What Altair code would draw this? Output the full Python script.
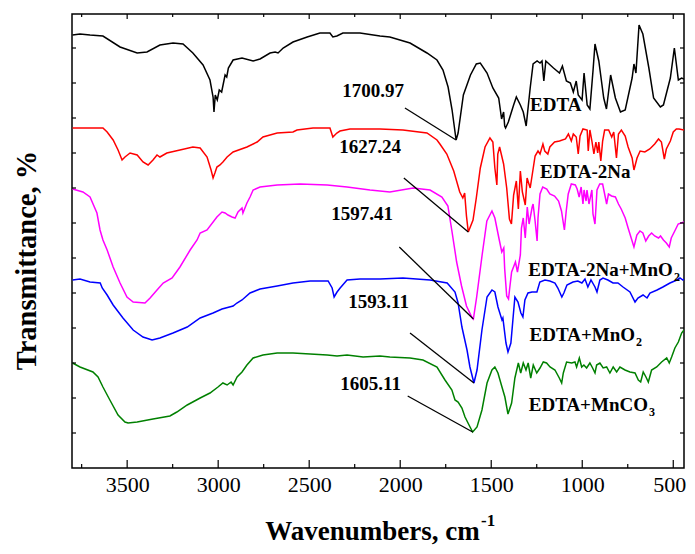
import altair as alt
import pandas as pd

# ---------------- data (wavenumber cm-1, transmittance a.u.) ----------------
edta = [(3800, 433), (3759, 434), (3704, 433), (3633, 432), (3539, 421), (3445, 415), (3391, 416),
        (3320, 423), (3248, 425), (3193, 424), (3139, 415), (3083, 403), (3045, 388), (3028, 371),
        (3023, 356), (3016, 373), (3005, 368), (2994, 378), (2981, 376), (2962, 393), (2953, 391),
        (2944, 400), (2918, 408), (2869, 410), (2808, 407), (2770, 409), (2715, 415), (2687, 416),
        (2671, 415), (2643, 420), (2589, 426), (2511, 431), (2441, 435), (2386, 435), (2370, 431),
        (2348, 432), (2315, 435), (2221, 435), (2111, 432), (2057, 431), (1946, 425), (1853, 415),
        (1798, 408), (1765, 398), (1737, 381), (1715, 358), (1693, 328), (1682, 335), (1653, 373),
        (1614, 393), (1582, 404), (1560, 405), (1523, 395), (1491, 380), (1459, 370), (1443, 349),
        (1432, 356), (1426, 342), (1421, 340), (1406, 346), (1377, 363), (1362, 371), (1340, 363),
        (1324, 356), (1308, 342), (1286, 380), (1270, 404), (1248, 407), (1232, 405), (1221, 407),
        (1211, 387), (1200, 407), (1158, 400), (1125, 395), (1109, 402), (1087, 387), (1065, 385),
        (1049, 376), (1033, 387), (1022, 373), (1001, 368), (990, 395), (973, 363), (958, 359),
        (941, 397), (930, 424), (909, 407), (882, 370), (867, 359), (844, 393), (818, 370),
        (790, 356), (764, 358), (726, 390), (716, 404), (705, 395), (688, 443), (667, 434),
        (634, 400), (608, 370), (571, 361), (554, 363), (516, 390), (494, 420), (472, 388),
        (454, 390), (441, 389)]

edta_2na = [(3800, 340), (3704, 340), (3633, 340), (3610, 336), (3577, 328), (3550, 318), (3528, 308),
            (3512, 311), (3484, 315), (3445, 313), (3413, 306), (3385, 303), (3358, 308), (3336, 313),
            (3320, 311), (3282, 315), (3210, 318), (3139, 321), (3099, 320), (3061, 311), (3039, 298),
            (3028, 290), (3018, 295), (3007, 301), (2990, 303), (2974, 306), (2951, 311), (2918, 316),
            (2842, 321), (2786, 326), (2754, 331), (2676, 335), (2589, 336), (2567, 338), (2479, 340),
            (2386, 340), (2370, 331), (2348, 335), (2331, 337), (2276, 339), (2111, 339), (1985, 338),
            (1853, 335), (1798, 328), (1782, 324), (1744, 314), (1706, 297), (1673, 276), (1656, 270),
            (1646, 275), (1636, 252), (1626, 236), (1600, 248), (1582, 270), (1560, 300), (1534, 321),
            (1507, 330), (1491, 326), (1480, 300), (1469, 283), (1464, 314), (1454, 321), (1432, 304),
            (1415, 280), (1400, 249), (1389, 244), (1377, 273), (1362, 287), (1351, 259), (1340, 297),
            (1329, 276), (1313, 263), (1303, 290), (1286, 280), (1275, 293), (1259, 312), (1243, 317),
            (1232, 314), (1216, 324), (1206, 317), (1189, 314), (1178, 321), (1152, 326), (1125, 327),
            (1092, 329), (1076, 334), (1060, 327), (1049, 334), (1033, 331), (1022, 314), (1012, 332),
            (996, 339), (973, 338), (967, 317), (958, 338), (947, 327), (936, 314), (925, 326),
            (915, 315), (909, 326), (898, 307), (888, 327), (877, 338), (855, 338), (838, 331),
            (827, 336), (812, 310), (801, 334), (785, 338), (764, 332), (748, 321), (726, 310),
            (716, 298), (699, 310), (682, 317), (656, 316), (629, 319), (602, 324), (581, 329),
            (565, 326), (549, 309), (538, 319), (516, 327), (500, 336), (483, 339), (468, 339),
            (441, 338)]

edta_2na_mno2 = [(3800, 279), (3743, 276), (3704, 271), (3666, 255), (3649, 238), (3633, 228), (3610, 218),
                 (3577, 201), (3539, 185), (3501, 171), (3467, 166), (3402, 165), (3374, 170), (3336, 178),
                 (3302, 185), (3253, 190), (3210, 201), (3154, 218), (3116, 228), (3099, 235), (3061, 238),
                 (3007, 251), (2979, 256), (2962, 255), (2946, 253), (2924, 251), (2907, 250), (2891, 256),
                 (2869, 260), (2864, 255), (2842, 265), (2825, 271), (2808, 278), (2770, 281), (2676, 283),
                 (2550, 284), (2401, 283), (2292, 281), (2166, 278), (2057, 276), (1929, 280), (1836, 278),
                 (1771, 271), (1738, 262), (1716, 237), (1690, 206), (1663, 182), (1636, 162), (1607, 151),
                 (1598, 149), (1580, 171), (1550, 213), (1524, 247), (1496, 257), (1480, 250), (1458, 230),
                 (1442, 216), (1431, 220), (1426, 199), (1415, 172), (1405, 169), (1399, 179), (1388, 196),
                 (1367, 206), (1356, 196), (1340, 213), (1334, 240), (1324, 250), (1313, 230), (1302, 261),
                 (1292, 244), (1275, 261), (1270, 264), (1259, 247), (1248, 227), (1243, 250), (1232, 274),
                 (1217, 281), (1195, 279), (1178, 274), (1152, 272), (1130, 267), (1114, 257), (1098, 238),
                 (1088, 257), (1077, 274), (1060, 284), (1038, 283), (1028, 279), (1017, 271), (1006, 281),
                 (996, 264), (990, 278), (979, 267), (974, 278), (963, 264), (947, 278), (941, 254),
                 (930, 244), (919, 278), (904, 284), (888, 284), (877, 274), (866, 264), (856, 274),
                 (839, 272), (818, 271), (801, 264), (786, 259), (764, 250), (748, 240), (726, 227),
                 (716, 221), (700, 233), (683, 237), (667, 235), (651, 227), (635, 232), (619, 235),
                 (602, 232), (581, 230), (570, 232), (554, 228), (538, 225), (522, 221), (511, 230),
                 (489, 238), (473, 244), (441, 246)]

edta_mno2 = [(3800, 188), (3759, 189), (3704, 186), (3648, 185), (3637, 180), (3610, 173), (3577, 163),
             (3523, 150), (3467, 138), (3413, 131), (3363, 128), (3320, 130), (3248, 135), (3170, 141),
             (3099, 150), (3028, 155), (2979, 159), (2918, 162), (2897, 165), (2869, 168), (2825, 175),
             (2770, 179), (2676, 182), (2589, 185), (2495, 187), (2396, 187), (2374, 180), (2363, 171),
             (2347, 176), (2330, 180), (2292, 188), (2221, 189), (2111, 189), (1985, 190), (1836, 188),
             (1742, 185), (1699, 176), (1682, 165), (1661, 141), (1633, 118), (1617, 101), (1595, 85),
             (1578, 98), (1551, 138), (1523, 171), (1496, 178), (1480, 176), (1463, 161), (1441, 148),
             (1436, 150), (1419, 125), (1408, 116), (1392, 125), (1381, 148), (1370, 171), (1353, 166),
             (1337, 155), (1326, 151), (1315, 168), (1298, 175), (1276, 176), (1249, 176), (1233, 186),
             (1205, 188), (1178, 187), (1150, 185), (1134, 180), (1112, 171), (1101, 175), (1084, 183),
             (1051, 186), (1024, 187), (1002, 185), (985, 189), (969, 181), (952, 188), (930, 181),
             (919, 176), (903, 188), (886, 190), (859, 188), (831, 185), (804, 185), (776, 181),
             (738, 176), (710, 166), (694, 170), (666, 173), (644, 170), (628, 175), (589, 178),
             (557, 181), (518, 185), (480, 188), (463, 190), (447, 188), (441, 189)]

edta_mnco3 = [(3800, 105), (3759, 101), (3688, 96), (3660, 91), (3633, 81), (3595, 68), (3550, 53),
              (3512, 46), (3495, 45), (3445, 46), (3358, 49), (3265, 52), (3227, 56), (3170, 63),
              (3099, 70), (3045, 75), (3001, 81), (2974, 85), (2951, 83), (2929, 86), (2918, 83),
              (2896, 91), (2869, 96), (2842, 103), (2808, 110), (2754, 113), (2676, 115), (2589, 115),
              (2495, 114), (2401, 113), (2347, 112), (2292, 113), (2204, 111), (2111, 112), (2057, 111),
              (1946, 110), (1875, 108), (1798, 101), (1754, 88), (1716, 78), (1699, 68), (1682, 66),
              (1661, 60), (1644, 51), (1622, 43), (1602, 36), (1578, 41), (1551, 58), (1523, 85),
              (1496, 98), (1480, 101), (1463, 95), (1441, 81), (1425, 71), (1408, 54), (1388, 65),
              (1370, 90), (1351, 105), (1338, 95), (1324, 105), (1309, 98), (1297, 105), (1283, 90),
              (1269, 103), (1250, 95), (1232, 100), (1214, 106), (1196, 105), (1177, 101), (1150, 98),
              (1126, 90), (1113, 85), (1104, 95), (1086, 106), (1058, 105), (1040, 106), (1031, 101),
              (1016, 110), (1003, 101), (991, 103), (976, 100), (958, 105), (943, 100), (930, 95),
              (921, 103), (903, 105), (885, 100), (866, 101), (848, 95), (830, 101), (811, 96),
              (793, 101), (765, 98), (738, 96), (710, 95), (692, 88), (679, 86), (665, 96), (650, 91),
              (637, 86), (619, 98), (591, 101), (564, 106), (536, 110), (522, 105), (509, 111),
              (491, 120), (472, 126), (454, 135), (441, 138)]

series_names = ["EDTA", "EDTA-2Na", "EDTA-2Na+MnO2", "EDTA+MnO2", "EDTA+MnCO3"]
series_colors = ["#000000", "#ff0000", "#ff00ff", "#0000ff", "#008000"]
series_data = [edta, edta_2na, edta_2na_mno2, edta_mno2, edta_mnco3]

# peak annotations: label, label anchor (wn, T), line start (wn, T), line end (peak)
peak_labels = ["1700.97", "1627.24", "1597.41", "1593.11", "1605.11"]
peak_label_wn = [1979, 1996, 2040, 1952, 1996]
peak_label_t = [371, 315, 248, 160, 78]
line_start_wn = [1974, 1980, 2005, 1946, 1959]
line_start_t = [360, 290, 221, 135, 72]
line_end_wn = [1693, 1626, 1598, 1595, 1602]
line_end_t = [328, 236, 149, 85, 36]

# curve name labels (anchor, baseline) and subscripts
name_texts = ["EDTA", "EDTA-2Na", "EDTA-2Na+MnO", "EDTA+MnO", "EDTA+MnCO"]
name_align = ["left", "left", "right", "right", "right"]
name_wn = [1287, 1232, 502, 710, 639]
name_t = [357, 290, 192, 127, 57]
sub_texts = ["2", "2", "3"]
sub_wn = [502, 710, 639]
sub_t = [187, 122, 52]

x_major = [3500, 3000, 2500, 2000, 1500, 1000, 500]
x_minor = [3750, 3250, 2750, 2250, 1750, 1250, 750]
y_ticks = [35, 70, 105, 140, 175, 210, 245, 280, 315, 350, 385, 420]

# ---------------- build ----------------
rows = []
for name, pts in zip(series_names, series_data):
    for wn, t in pts:
        rows.append({"series": name, "wn": wn, "T": t})
df = pd.DataFrame(rows)

FONT = "Liberation Serif"
W, H = 612, 454
xscale = alt.Scale(domain=[441, 3803], reverse=True, nice=False, zero=False)
yscale = alt.Scale(domain=[0, 454], nice=False, zero=False)

lines = alt.Chart(df).mark_line(strokeWidth=1.5, clip=True).encode(
    x=alt.X("wn:Q", scale=xscale,
            axis=alt.Axis(values=x_major, format="d", ticks=False, domain=False, grid=False,
                          labelFont=FONT, labelFontSize=22, labelColor="black",
                          labelPadding=6, labelFlush=False,
                          labelOffset={"condition": {"test": "datum.value == 500", "value": -4}, "value": 0},
                          title="Wavenumbers, cm", titleFont=FONT, titleFontSize=27,
                          titleFontWeight="bold", titleColor="black",
                          titleX=300, titleY=71, titleBaseline="alphabetic", titleAlign="center")),
    y=alt.Y("T:Q", scale=yscale,
            axis=alt.Axis(labels=False, ticks=False, domain=False, grid=False,
                          title="Transmittance, %", titleFont=FONT, titleFontSize=28.5,
                          titleFontWeight="bold", titleColor="black",
                          titleX=-46, titleY=246, titleAngle=270,
                          titleBaseline="middle", titleAlign="center")),
    color=alt.Color("series:N", scale=alt.Scale(domain=series_names, range=series_colors), legend=None),
    order=alt.Order("wn:Q", sort="descending"),
)

ann = pd.DataFrame({"label": peak_labels, "lwn": peak_label_wn, "lt": peak_label_t,
                    "swn": line_start_wn, "st": line_start_t, "ewn": line_end_wn, "et": line_end_t})
ann_lines = alt.Chart(ann).mark_rule(color="black", strokeWidth=1.3).encode(
    x=alt.X("swn:Q", scale=xscale), x2="ewn:Q",
    y=alt.Y("st:Q", scale=yscale), y2="et:Q")
ann_text = alt.Chart(ann).mark_text(font=FONT, fontSize=19, fontWeight="bold", color="black",
                                    align="right", baseline="alphabetic").encode(
    x=alt.X("lwn:Q", scale=xscale), y=alt.Y("lt:Q", scale=yscale), text="label:N")

names = pd.DataFrame({"txt": name_texts, "al": name_align, "wn": name_wn, "t": name_t})
name_left = alt.Chart(names[names.al == "left"]).mark_text(
    font=FONT, fontSize=19, fontWeight="bold", color="black", align="left", baseline="alphabetic").encode(
    x=alt.X("wn:Q", scale=xscale), y=alt.Y("t:Q", scale=yscale), text="txt:N")
name_right = alt.Chart(names[names.al == "right"]).mark_text(
    font=FONT, fontSize=19, fontWeight="bold", color="black", align="right", baseline="alphabetic").encode(
    x=alt.X("wn:Q", scale=xscale), y=alt.Y("t:Q", scale=yscale), text="txt:N")
subs = pd.DataFrame({"txt": sub_texts, "wn": sub_wn, "t": sub_t})
sub_text = alt.Chart(subs).mark_text(
    font=FONT, fontSize=12, fontWeight="bold", color="black", align="left", baseline="alphabetic", dx=1).encode(
    x=alt.X("wn:Q", scale=xscale), y=alt.Y("t:Q", scale=yscale), text="txt:N")

sup = alt.Chart(pd.DataFrame({"s": ["-1"]})).mark_text(
    font=FONT, fontSize=17, fontWeight="bold", color="black", align="left", baseline="alphabetic").encode(
    x=alt.value(409), y=alt.value(512), text="s:N")

xm = pd.DataFrame({"v": x_major})
xn = pd.DataFrame({"v": x_minor})
yt = pd.DataFrame({"v": y_ticks})
tick_style = dict(color="black", strokeWidth=1.2)
ticks = [
    alt.Chart(xm).mark_rule(**tick_style).encode(x=alt.X("v:Q", scale=xscale), y=alt.value(H), y2=alt.value(H - 8)),
    alt.Chart(xn).mark_rule(**tick_style).encode(x=alt.X("v:Q", scale=xscale), y=alt.value(H), y2=alt.value(H - 4)),
    alt.Chart(xm).mark_rule(**tick_style).encode(x=alt.X("v:Q", scale=xscale), y=alt.value(0), y2=alt.value(5)),
    alt.Chart(xn).mark_rule(**tick_style).encode(x=alt.X("v:Q", scale=xscale), y=alt.value(0), y2=alt.value(3)),
    alt.Chart(yt).mark_rule(**tick_style).encode(y=alt.Y("v:Q", scale=yscale), x=alt.value(0), x2=alt.value(4)),
    alt.Chart(yt).mark_rule(**tick_style).encode(y=alt.Y("v:Q", scale=yscale), x=alt.value(W), x2=alt.value(W - 4)),
]

chart = alt.layer(lines, ann_lines, ann_text, name_left, name_right, sub_text, sup, *ticks).properties(
    width=W, height=H,
    padding={"left": 64, "top": 6, "right": 3, "bottom": 78},
    autosize=alt.AutoSizeParams(type="none"),
    background="white",
).configure_view(stroke="black", strokeWidth=1.5)

chart.save("out.html", embed_options={"renderer": "svg", "actions": False})
